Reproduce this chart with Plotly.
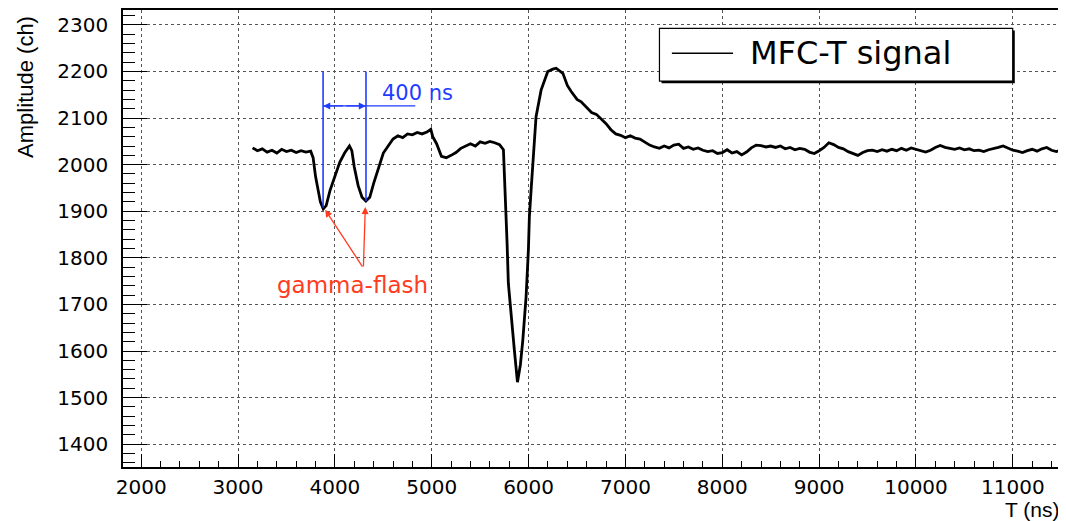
import plotly.graph_objects as go

# ---- data (time in ns, amplitude in channels) ----
time_ns = [3150, 3200, 3250, 3300, 3350, 3400, 3450, 3500, 3550, 3600, 3650, 3700, 3750,
           3775, 3800, 3825, 3850, 3880, 3910, 3950, 4000, 4050, 4100, 4150, 4175, 4200,
           4240, 4280, 4320, 4360, 4400, 4450, 4500, 4550, 4600, 4650, 4700, 4750, 4800,
           4850, 4900, 4950, 4990, 5010, 5050, 5100, 5150, 5200, 5250, 5300, 5350, 5400,
           5450, 5500, 5550, 5600, 5650, 5700, 5740, 5757, 5778, 5791, 5819, 5853, 5885,
           5915, 5940, 5974, 5998, 6008, 6026, 6043, 6077, 6129, 6198, 6250, 6284, 6354,
           6400, 6440, 6500, 6543, 6600, 6650, 6700, 6750, 6800, 6850, 6900, 6950, 7000,
           7050, 7100, 7150, 7200, 7250, 7300, 7350, 7400, 7450, 7500, 7550, 7600, 7650,
           7700, 7750, 7800, 7850, 7900, 7950, 8000, 8050, 8100, 8150, 8200, 8250, 8300,
           8350, 8400, 8450, 8500, 8550, 8600, 8650, 8700, 8750, 8800, 8850, 8900, 8950,
           9000, 9050, 9100, 9150, 9200, 9250, 9300, 9350, 9400, 9450, 9500, 9550, 9600,
           9650, 9700, 9750, 9800, 9850, 9900, 9950, 10000, 10050, 10100, 10150, 10200,
           10250, 10300, 10350, 10400, 10450, 10500, 10550, 10600, 10650, 10700, 10750,
           10800, 10850, 10900, 10950, 11000, 11050, 11100, 11150, 11200, 11250, 11300,
           11350, 11400, 11450, 11500]
amplitude = [2036, 2030, 2034, 2027, 2031, 2025, 2033, 2028, 2031, 2026, 2030, 2027, 2029,
             2015, 1975, 1945, 1920, 1905, 1912, 1945, 1975, 2005, 2025, 2040, 2030, 1995,
             1955, 1930, 1922, 1930, 1960, 1995, 2025, 2040, 2055, 2062, 2058, 2066, 2064,
             2069, 2066, 2070, 2076, 2060, 2045, 2018, 2015, 2020, 2026, 2035, 2040, 2045,
             2040, 2049, 2046, 2050, 2047, 2043, 2032, 1955, 1831, 1745, 1673, 1602, 1533,
             1570, 1623, 1716, 1817, 1888, 1946, 2003, 2103, 2160, 2200, 2205, 2207, 2196,
             2170, 2157, 2140, 2135, 2122, 2112, 2108, 2098, 2088, 2075, 2066, 2063, 2058,
             2062, 2057, 2055, 2049, 2042, 2038, 2035, 2040, 2036, 2042, 2044, 2035, 2038,
             2033, 2036, 2031, 2028, 2030, 2024, 2026, 2032, 2025, 2028, 2021, 2027, 2036,
             2042, 2041, 2038, 2040, 2037, 2040, 2034, 2037, 2032, 2035, 2033, 2027, 2024,
             2030, 2037, 2047, 2043, 2037, 2034, 2028, 2024, 2020, 2026, 2030, 2031, 2028,
             2032, 2029, 2033, 2030, 2035, 2031, 2036, 2033, 2030, 2027, 2031, 2037,
             2041, 2037, 2035, 2033, 2036, 2032, 2034, 2030, 2031, 2028, 2032,
             2034, 2037, 2040, 2035, 2031, 2029, 2026, 2030, 2033, 2029, 2034,
             2037, 2031, 2028, 2032]

series_name = "MFC-T signal"
x_tick_values = [2000, 3000, 4000, 5000, 6000, 7000, 8000, 9000, 10000, 11000]
x_tick_labels = ["2000", "3000", "4000", "5000", "6000", "7000", "8000", "9000", "10000", "11000"]
y_tick_values = [1400, 1500, 1600, 1700, 1800, 1900, 2000, 2100, 2200, 2300]
y_tick_labels = ["1400", "1500", "1600", "1700", "1800", "1900", "2000", "2100", "2200", "2300"]
x_title = "T (ns)"
y_title = "Amplitude (ch)"

# annotation anchors (data coordinates)
flash_t = [3878, 4321]          # gamma-flash minima marked by blue lines
flash_tip_v = [1903, 1909]      # arrow tips of red arrows
blue_top = 2200
blue_bottom = [1908, 1922]
span_v = 2126                   # level of the 400 ns double arrow
span_end = 4830
span_label = "400 ns"
flash_label = "gamma-flash"
flash_label_pos = (4185, 1742)
flash_tail = (4294, 1778)

BLUE = "#1f3dff"
RED = "#ff3b22"

fig = go.Figure()
fig.add_trace(go.Scatter(x=time_ns, y=amplitude, mode="lines", name=series_name,
                         line=dict(color="black", width=2.8), showlegend=False))

shapes = []
for t, vb in zip(flash_t, blue_bottom):
    shapes.append(dict(type="line", xref="x", yref="y", x0=t, x1=t, y0=vb, y1=blue_top,
                       line=dict(color=BLUE, width=1.6), layer="above"))
shapes.append(dict(type="line", xref="x", yref="y", x0=flash_t[0], x1=span_end,
                   y0=span_v, y1=span_v, line=dict(color=BLUE, width=1.3), layer="above"))

# manual ROOT-like legend box with shadow (paper coords)
lx0, lx1, ly0, ly1 = 0.5707, 0.9465, 0.8445, 0.9599
shapes.append(dict(type="rect", xref="paper", yref="paper", x0=lx0 + 0.0022, x1=lx1 + 0.0022,
                   y0=ly0 - 0.0046, y1=ly1 - 0.0046, fillcolor="black",
                   line=dict(color="black", width=0), layer="above"))
shapes.append(dict(type="rect", xref="paper", yref="paper", x0=lx0, x1=lx1, y0=ly0, y1=ly1,
                   fillcolor="white", line=dict(color="black", width=1.2), layer="above"))
shapes.append(dict(type="line", xref="paper", yref="paper", x0=0.5839, x1=0.6490,
                   y0=0.9052, y1=0.9052, line=dict(color="black", width=1.5), layer="above"))

annotations = []
annotations.append(dict(xref="paper", yref="paper", x=0.6651, y=0.9058, xanchor="left",
                        yanchor="middle", text=series_name, showarrow=False,
                        font=dict(family="DejaVu Sans", size=32, color="black")))
mid = (flash_t[0] + flash_t[1]) / 2
for t in flash_t:
    annotations.append(dict(xref="x", yref="y", axref="x", ayref="y", x=t, y=span_v,
                            ax=mid, ay=span_v, text="", showarrow=True, arrowhead=2,
                            arrowsize=1.1, arrowwidth=1.3, arrowcolor=BLUE))
annotations.append(dict(xref="x", yref="y", x=4466, y=2154, xanchor="left", yanchor="middle",
                        text=span_label, showarrow=False,
                        font=dict(family="DejaVu Sans", size=21, color=BLUE)))
for t, v in zip(flash_t, flash_tip_v):
    tip_t = t + 22 if t == flash_t[0] else t - 7
    annotations.append(dict(xref="x", yref="y", axref="x", ayref="y", x=tip_t, y=v,
                            ax=flash_tail[0], ay=flash_tail[1], text="", showarrow=True,
                            arrowhead=2, arrowsize=1.1, arrowwidth=1.3, arrowcolor=RED))
annotations.append(dict(xref="x", yref="y", x=flash_label_pos[0], y=flash_label_pos[1],
                        text=flash_label, showarrow=False, xanchor="center", yanchor="middle",
                        font=dict(family="DejaVu Sans", size=23, color=RED)))
annotations.append(dict(xref="paper", yref="paper", x=-0.1039, y=0.8325, text=y_title,
                        textangle=-90, showarrow=False, xanchor="center", yanchor="middle",
                        font=dict(family="Liberation Sans", size=22, color="black")))
annotations.append(dict(xref="paper", yref="paper", x=0.997, y=-0.092, text=x_title,
                        showarrow=False, xanchor="right", yanchor="middle", borderpad=0,
                        font=dict(family="Liberation Sans", size=21, color="black")))

axis_common = dict(showline=True, linecolor="black", linewidth=1.5, mirror=True,
                   ticks="inside", tickcolor="black", tickwidth=1.3, automargin=False,
                   showgrid=True, gridcolor="#555555", griddash="dot", gridwidth=1,
                   zeroline=False, tickfont=dict(family="DejaVu Sans", size=20, color="black"))

# the page body adds an 8 px offset, so the figure is 8 px smaller and margins shifted
fig.update_layout(
    width=1058, height=513,
    margin=dict(l=115, r=3, t=2, b=54, autoexpand=False),
    paper_bgcolor="white", plot_bgcolor="white",
    xaxis=dict(range=[1812, 11518], tickvals=x_tick_values, ticktext=x_tick_labels,
               ticklen=13, ticklabelstandoff=1,
               minor=dict(ticks="inside", ticklen=6, dtick=200, tick0=0,
                          tickcolor="black", tickwidth=1.2, showgrid=False),
               **axis_common),
    yaxis=dict(range=[1351, 2332], tickvals=y_tick_values, ticktext=y_tick_labels,
               ticklen=24, ticklabelstandoff=9,
               minor=dict(ticks="inside", ticklen=12, dtick=20, tick0=0,
                          tickcolor="black", tickwidth=1.2, showgrid=False),
               **axis_common),
    shapes=shapes,
    annotations=annotations,
    showlegend=False,
)

fig.write_html("out.html")
